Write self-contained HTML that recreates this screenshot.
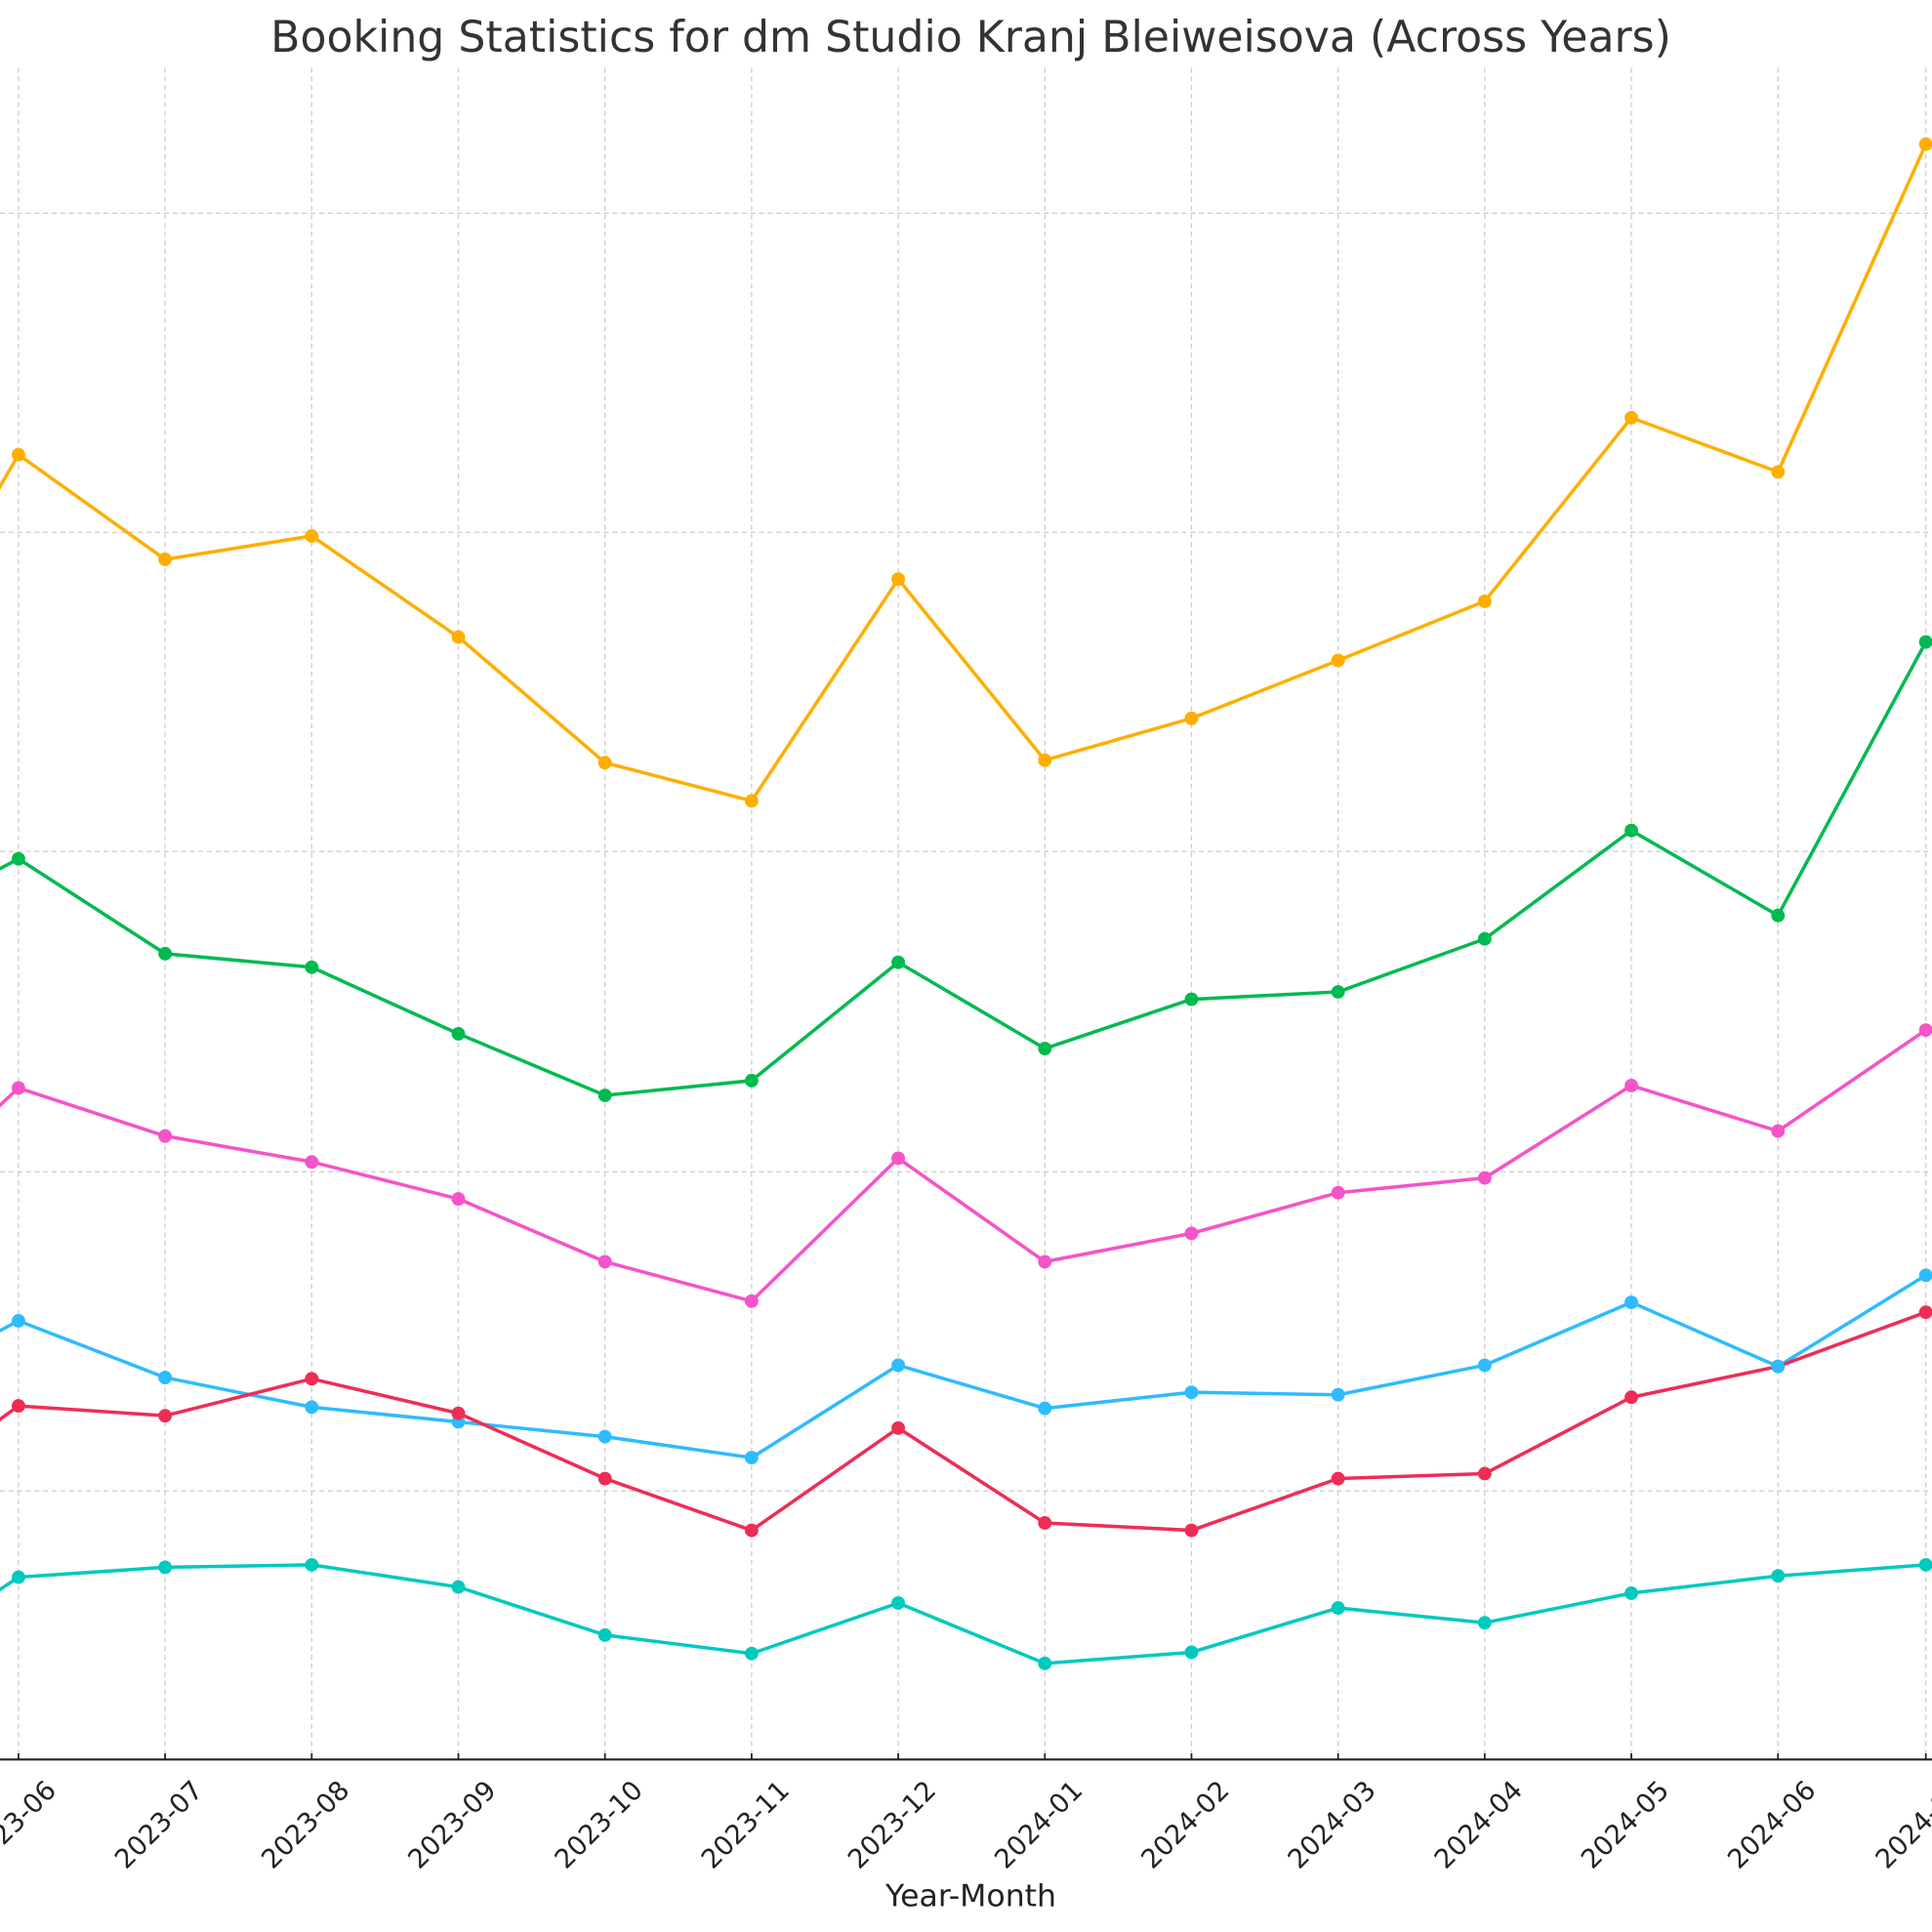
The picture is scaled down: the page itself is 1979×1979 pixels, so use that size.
<!DOCTYPE html>
<html><head><meta charset="utf-8"><style>html,body{margin:0;padding:0;background:#fff}svg{display:block}</style></head>
<body>
<svg width="1979" height="1979" viewBox="0 0 1568 1568" xmlns="http://www.w3.org/2000/svg" font-family="'DejaVu Sans','Liberation Sans',sans-serif">
<rect width="1568" height="1568" fill="#fff"/>
<g stroke="#cccccc" stroke-width="1" stroke-dasharray="4,3" fill="none">
<path d="M0 173H1568M0 432H1568M0 691H1568M0 951H1568M0 1210H1568"/>
<path d="M15 55V1428M134 55V1428M253 55V1428M372 55V1428M491 55V1428M610 55V1428M729 55V1428M848 55V1428M967 55V1428M1086 55V1428M1205 55V1428M1324 55V1428M1443 55V1428M1563 55V1428"/>
</g>
<line x1="0" y1="1428" x2="1568" y2="1428" stroke="#222" stroke-width="1.6"/>
<path d="M15 1428v-5M134 1428v-5M253 1428v-5M372 1428v-5M491 1428v-5M610 1428v-5M729 1428v-5M848 1428v-5M967 1428v-5M1086 1428v-5M1205 1428v-5M1324 1428v-5M1443 1428v-5M1563 1428v-5" stroke="#222" stroke-width="1.4"/>
<g fill="none" stroke-width="2.8" stroke-linejoin="round">
<polyline stroke="#FFAE00" points="-104,575 15,369 134,454 253,435 372,517 491,619 610,650 729,470 848,617 967,583 1086,536 1205,488 1324,339 1443,383 1563,117"/>
<polyline stroke="#00BA50" points="-104,760 15,697 134,774 253,785 372,839 491,889 610,877 729,781 848,851 967,811 1086,805 1205,762 1324,674 1443,743 1563,521"/>
<polyline stroke="#F553C8" points="-104,994 15,883 134,922 253,943 372,973 491,1024 610,1056 729,940 848,1024 967,1001 1086,968 1205,956 1324,881 1443,918 1563,836"/>
<polyline stroke="#2EBBFF" points="-104,1135 15,1072 134,1118 253,1142 372,1154 491,1166 610,1183 729,1108 848,1143 967,1130 1086,1132 1205,1108 1324,1057 1443,1109 1563,1035"/>
<polyline stroke="#EE2D55" points="-104,1228 15,1141 134,1149 253,1119 372,1147 491,1200 610,1242 729,1159 848,1236 967,1242 1086,1200 1205,1196 1324,1134 1443,1109 1563,1065"/>
<polyline stroke="#00C9BE" points="-104,1360 15,1280 134,1272 253,1270 372,1288 491,1327 610,1342 729,1301 848,1350 967,1341 1086,1305 1205,1317 1324,1293 1443,1279 1563,1270"/>
</g>
<g fill="#FFAE00"><circle cx="15" cy="369" r="5.5"/><circle cx="134" cy="454" r="5.5"/><circle cx="253" cy="435" r="5.5"/><circle cx="372" cy="517" r="5.5"/><circle cx="491" cy="619" r="5.5"/><circle cx="610" cy="650" r="5.5"/><circle cx="729" cy="470" r="5.5"/><circle cx="848" cy="617" r="5.5"/><circle cx="967" cy="583" r="5.5"/><circle cx="1086" cy="536" r="5.5"/><circle cx="1205" cy="488" r="5.5"/><circle cx="1324" cy="339" r="5.5"/><circle cx="1443" cy="383" r="5.5"/><circle cx="1563" cy="117" r="5.5"/></g>
<g fill="#00BA50"><circle cx="15" cy="697" r="5.5"/><circle cx="134" cy="774" r="5.5"/><circle cx="253" cy="785" r="5.5"/><circle cx="372" cy="839" r="5.5"/><circle cx="491" cy="889" r="5.5"/><circle cx="610" cy="877" r="5.5"/><circle cx="729" cy="781" r="5.5"/><circle cx="848" cy="851" r="5.5"/><circle cx="967" cy="811" r="5.5"/><circle cx="1086" cy="805" r="5.5"/><circle cx="1205" cy="762" r="5.5"/><circle cx="1324" cy="674" r="5.5"/><circle cx="1443" cy="743" r="5.5"/><circle cx="1563" cy="521" r="5.5"/></g>
<g fill="#F553C8"><circle cx="15" cy="883" r="5.5"/><circle cx="134" cy="922" r="5.5"/><circle cx="253" cy="943" r="5.5"/><circle cx="372" cy="973" r="5.5"/><circle cx="491" cy="1024" r="5.5"/><circle cx="610" cy="1056" r="5.5"/><circle cx="729" cy="940" r="5.5"/><circle cx="848" cy="1024" r="5.5"/><circle cx="967" cy="1001" r="5.5"/><circle cx="1086" cy="968" r="5.5"/><circle cx="1205" cy="956" r="5.5"/><circle cx="1324" cy="881" r="5.5"/><circle cx="1443" cy="918" r="5.5"/><circle cx="1563" cy="836" r="5.5"/></g>
<g fill="#2EBBFF"><circle cx="15" cy="1072" r="5.5"/><circle cx="134" cy="1118" r="5.5"/><circle cx="253" cy="1142" r="5.5"/><circle cx="372" cy="1154" r="5.5"/><circle cx="491" cy="1166" r="5.5"/><circle cx="610" cy="1183" r="5.5"/><circle cx="729" cy="1108" r="5.5"/><circle cx="848" cy="1143" r="5.5"/><circle cx="967" cy="1130" r="5.5"/><circle cx="1086" cy="1132" r="5.5"/><circle cx="1205" cy="1108" r="5.5"/><circle cx="1324" cy="1057" r="5.5"/><circle cx="1563" cy="1035" r="5.5"/></g>
<g fill="#EE2D55"><circle cx="15" cy="1141" r="5.5"/><circle cx="134" cy="1149" r="5.5"/><circle cx="253" cy="1119" r="5.5"/><circle cx="372" cy="1147" r="5.5"/><circle cx="491" cy="1200" r="5.5"/><circle cx="610" cy="1242" r="5.5"/><circle cx="729" cy="1159" r="5.5"/><circle cx="848" cy="1236" r="5.5"/><circle cx="967" cy="1242" r="5.5"/><circle cx="1086" cy="1200" r="5.5"/><circle cx="1205" cy="1196" r="5.5"/><circle cx="1324" cy="1134" r="5.5"/><circle cx="1443" cy="1109" r="5.5"/><circle cx="1563" cy="1065" r="5.5"/></g>
<circle cx="1443" cy="1109" r="5.5" fill="#2EBBFF"/>
<g fill="#00C9BE"><circle cx="15" cy="1280" r="5.5"/><circle cx="134" cy="1272" r="5.5"/><circle cx="253" cy="1270" r="5.5"/><circle cx="372" cy="1288" r="5.5"/><circle cx="491" cy="1327" r="5.5"/><circle cx="610" cy="1342" r="5.5"/><circle cx="729" cy="1301" r="5.5"/><circle cx="848" cy="1350" r="5.5"/><circle cx="967" cy="1341" r="5.5"/><circle cx="1086" cy="1305" r="5.5"/><circle cx="1205" cy="1317" r="5.5"/><circle cx="1324" cy="1293" r="5.5"/><circle cx="1443" cy="1279" r="5.5"/><circle cx="1563" cy="1270" r="5.5"/></g>
<g font-size="21.5" fill="#222" text-anchor="middle">
<text transform="translate(15,1486) rotate(-45)">2023-06</text>
<text transform="translate(134,1486) rotate(-45)">2023-07</text>
<text transform="translate(253,1486) rotate(-45)">2023-08</text>
<text transform="translate(372,1486) rotate(-45)">2023-09</text>
<text transform="translate(491,1486) rotate(-45)">2023-10</text>
<text transform="translate(610,1486) rotate(-45)">2023-11</text>
<text transform="translate(729,1486) rotate(-45)">2023-12</text>
<text transform="translate(848,1486) rotate(-45)">2024-01</text>
<text transform="translate(967,1486) rotate(-45)">2024-02</text>
<text transform="translate(1086,1486) rotate(-45)">2024-03</text>
<text transform="translate(1205,1486) rotate(-45)">2024-04</text>
<text transform="translate(1324,1486) rotate(-45)">2024-05</text>
<text transform="translate(1443,1486) rotate(-45)">2024-06</text>
<text transform="translate(1563,1486) rotate(-45)">2024-07</text>
</g>
<text x="788" y="1547" font-size="25" fill="#222" text-anchor="middle">Year-Month</text>
<text x="788" y="42" font-size="35" fill="#333" text-anchor="middle">Booking Statistics for dm Studio Kranj Bleiweisova (Across Years)</text>
</svg>
</body></html>
